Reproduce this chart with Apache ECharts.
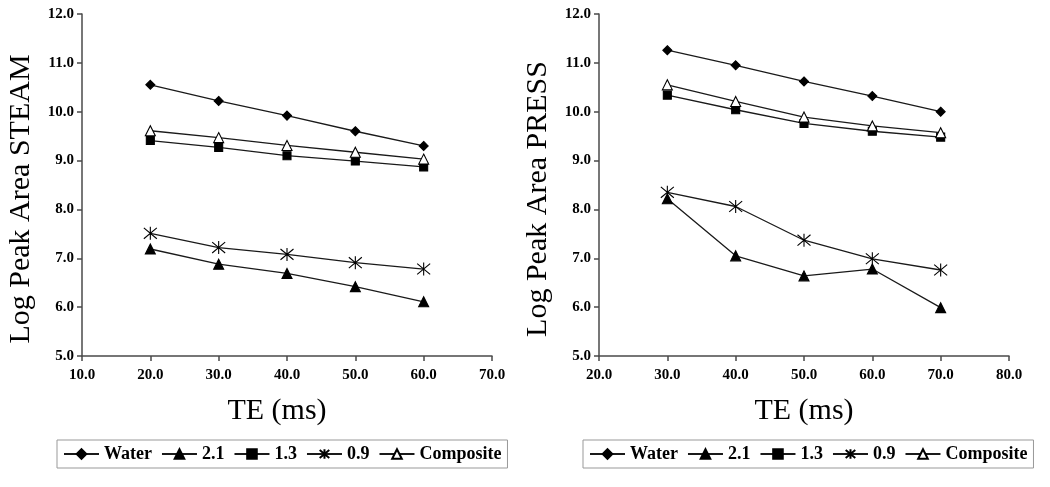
<!DOCTYPE html>
<html>
<head>
<meta charset="utf-8">
<script src="https://cdn.jsdelivr.net/npm/echarts@6/dist/echarts.min.js"></script>
<style>
html,body{margin:0;padding:0;background:#fff;}
#c{width:1050px;height:487px;}
</style>
</head>
<body>
<div id="c"></div>
<script>
// ---- Data ----
const seriesNames = ['Water', '2.1', '1.3', '0.9', 'Composite'];
const steamTE = [20, 30, 40, 50, 60];
const pressTE = [30, 40, 50, 60, 70];

const steamWater = [10.55, 10.22, 9.92, 9.60, 9.30];
const steam21 = [7.19, 6.88, 6.69, 6.42, 6.11];
const steam13 = [9.41, 9.27, 9.10, 8.99, 8.87];
const steam09 = [7.51, 7.22, 7.08, 6.91, 6.78];
const steamComposite = [9.61, 9.47, 9.31, 9.17, 9.03];

const pressWater = [11.26, 10.95, 10.62, 10.32, 10.00];
const press21 = [8.22, 7.05, 6.64, 6.78, 5.99];
const press13 = [10.34, 10.04, 9.76, 9.60, 9.48];
const press09 = [8.35, 8.06, 7.37, 6.99, 6.76];
const pressComposite = [10.55, 10.21, 9.89, 9.71, 9.57];

const steamSets = [steamWater, steam21, steam13, steam09, steamComposite];
const pressSets = [pressWater, press21, press13, press09, pressComposite];

// ---- Styles ----
const FONT = '"Liberation Serif","Times New Roman",Times,serif';
const LINE = '#1a1a1a';
const AXIS = '#4a4a4a';
const markers = [
  {symbol: 'diamond', size: 9, color: '#000', border: '#000'},
  {symbol: 'triangle', size: 10, color: '#000', border: '#000'},
  {symbol: 'rect', size: 8, color: '#000', border: '#000'},
  {symbol: 'path://M0 0L10 10M10 0L0 10M5 -1L5 11', size: 13, color: 'none', border: '#000'},
  {symbol: 'triangle', size: 10, color: '#fff', border: '#000'}
];

function pairs(xs, ys) { return xs.map((x, i) => [x, ys[i]]); }

function makeSeries(sets, xs, idx) {
  return sets.map((ys, i) => ({
    type: 'line',
    name: seriesNames[i],
    xAxisIndex: idx,
    yAxisIndex: idx,
    data: pairs(xs, ys),
    symbol: markers[i].symbol,
    symbolSize: markers[i].size,
    lineStyle: {color: LINE, width: 1.3},
    itemStyle: {color: markers[i].color, borderColor: markers[i].border, borderWidth: 1.1},
    emphasis: {disabled: true},
    animation: false,
    z: 3
  }));
}

function xAxis(idx, min, max, shift) {
  return {
    type: 'value', gridIndex: idx, min: min, max: max, interval: 10,
    name: 'TE (ms)', nameLocation: 'middle', nameGap: 40,
    nameTextStyle: {fontFamily: FONT, fontSize: 30, color: '#000', padding: shift},
    axisLine: {show: true, lineStyle: {color: AXIS, width: 1.5}},
    axisTick: {show: true, length: 5, lineStyle: {color: AXIS, width: 1.5}},
    splitLine: {show: false},
    axisLabel: {fontFamily: FONT, fontSize: 15, fontWeight: 'bold', color: '#000', margin: 12,
      formatter: v => v.toFixed(1)}
  };
}
function yAxis(idx, name) {
  return {
    type: 'value', gridIndex: idx, min: 5, max: 12, interval: 1,
    name: name, nameLocation: 'middle', nameGap: 46, nameRotate: 90,
    nameTextStyle: {fontFamily: FONT, fontSize: 30, color: '#000', padding: [0, 28, 0, 0]},
    axisLine: {show: true, lineStyle: {color: AXIS, width: 1.5}},
    axisTick: {show: true, length: 5, lineStyle: {color: AXIS, width: 1.5}},
    splitLine: {show: false},
    axisLabel: {fontFamily: FONT, fontSize: 15, fontWeight: 'bold', color: '#000', margin: 8,
      formatter: v => v.toFixed(1)}
  };
}
function legend(left) {
  return {
    data: seriesNames, left: left, top: 440, orient: 'horizontal',
    itemWidth: 35, itemHeight: 12, itemGap: 9,
    padding: [5, 6], borderColor: '#999', borderWidth: 1, backgroundColor: '#fff',
    textStyle: {fontFamily: FONT, fontSize: 18, fontWeight: 'bold', color: '#000'},
    selectedMode: false
  };
}

const chart = echarts.init(document.getElementById('c'), null, {renderer: 'canvas'});
chart.setOption({
  backgroundColor: '#fff',
  animation: false,
  grid: [
    {left: 82, top: 14, width: 410, height: 342},
    {left: 599, top: 14, width: 410, height: 342}
  ],
  xAxis: [xAxis(0, 10, 70, [0, 20, 0, 0]), xAxis(1, 20, 80, [0, 0, 0, 0])],
  yAxis: [yAxis(0, 'Log Peak Area STEAM'), yAxis(1, 'Log Peak Area PRESS')],
  legend: [legend(57), legend(583)],
  series: makeSeries(steamSets, steamTE, 0).concat(makeSeries(pressSets, pressTE, 1))
});
</script>
</body>
</html>
